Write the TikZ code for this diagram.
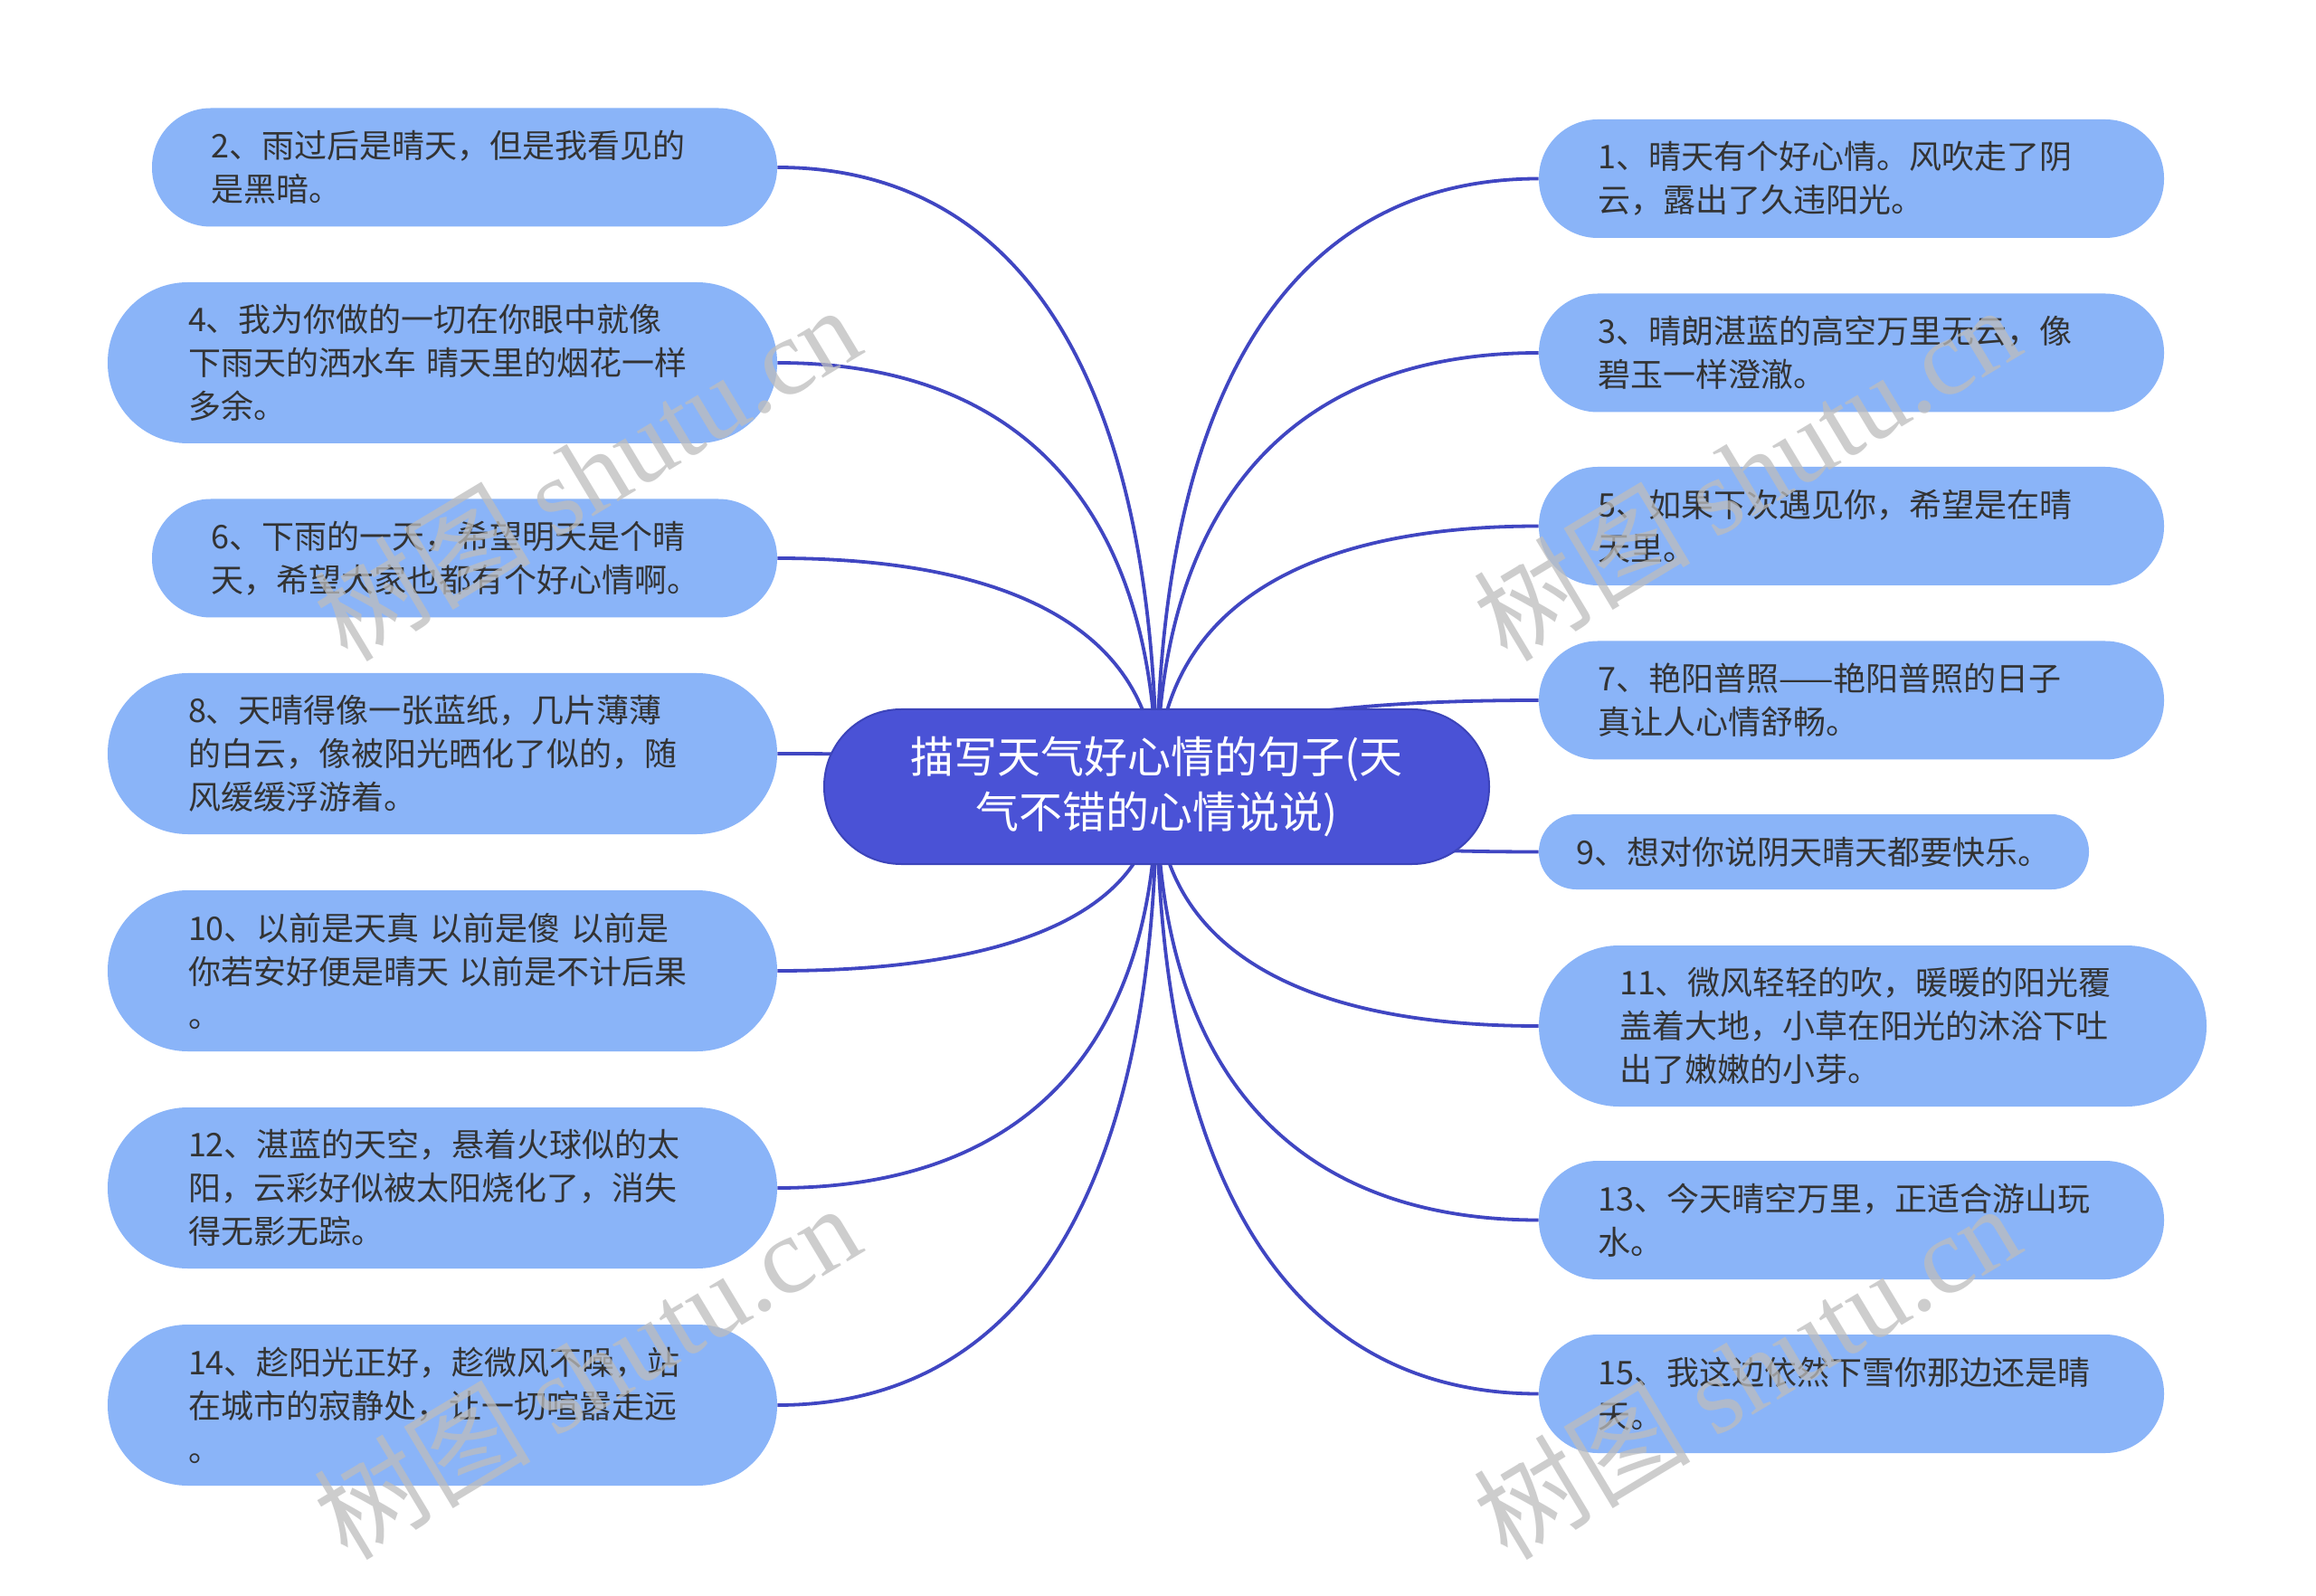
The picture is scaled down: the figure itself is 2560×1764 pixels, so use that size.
\documentclass[tikz,border=0pt]{standalone}
\usepackage{fontspec}
\setmainfont{Noto Sans CJK SC}
\newfontfamily\wmlatin{Liberation Serif}
\usetikzlibrary{calc,backgrounds}
\definecolor{leafc}{HTML}{8AB4F8}
\definecolor{rootc}{HTML}{4A52D6}
\definecolor{rootl}{HTML}{3C44BA}
\definecolor{edgec}{HTML}{4046C2}
\definecolor{txtc}{HTML}{333333}
\definecolor{wmc}{HTML}{BDBDBD}
\tikzset{
  leafbase/.style={rectangle, fill=leafc, text=txtc, align=left, inner ysep=0pt,
    font=\fontsize{18pt}{24pt}\selectfont},
  leaftwo/.style={leafbase, minimum width=345.5pt, minimum height=65.5pt,
    rounded corners=32.5pt, inner xsep=32.75pt, text width=280pt},
  leafthree/.style={leafbase, minimum width=370pt, minimum height=89pt,
    rounded corners=44.3pt, inner xsep=44.5pt, text width=281pt},
  leafwide/.style={leafbase, minimum width=369pt, minimum height=89pt,
    rounded corners=44.3pt, inner xsep=44.5pt, text width=280pt},
  leafone/.style={leafbase, minimum width=304pt, minimum height=41.5pt,
    rounded corners=20.6pt, inner xsep=20.75pt, text width=262.5pt},
  rootbox/.style={rectangle, fill=rootc, draw=rootl, line width=1pt, text=white,
    align=center, minimum width=367.5pt, minimum height=85.5pt, rounded corners=42.5pt,
    inner sep=0pt, font=\fontsize{24pt}{30.5pt}\selectfont},
  conn/.style={draw=edgec, line width=1.9pt},
  wmark/.style={text=wmc, opacity=0.75, inner sep=0pt, font=\fontsize{60pt}{60pt}\selectfont}
}
\newcommand{\linkto}[1]{%
  \draw[conn] (root.center) .. controls ($(root.center)!0.65!(root.center |- #1)$)
    and ($(#1)!0.65!(root.center |- #1)$) .. (#1);}
\begin{document}
\begin{tikzpicture}[x=0.5pt,y=-0.5pt]
\useasboundingbox (0,0) rectangle (2560,1764);

\node[rootbox] (root) at (1278.5,869.5) {描写天气好心情的句子(天\\气不错的心情说说)};

% left column
\node[leaftwo]   (n2)  at (513.5,185)  {2、雨过后是晴天，但是我看见的\\是黑暗。};
\node[leafthree] (n4)  at (489,401)    {4、我为你做的一切在你眼中就像\\下雨天的洒水车 晴天里的烟花一样\\多余。};
\node[leaftwo]   (n6)  at (513.5,617)  {6、下雨的一天，希望明天是个晴\\天，希望大家也都有个好心情啊。};
\node[leafthree] (n8)  at (489,833)    {8、天晴得像一张蓝纸，几片薄薄\\的白云，像被阳光晒化了似的，随\\风缓缓浮游着。};
\node[leafthree] (n10) at (489,1073)   {10、以前是天真 以前是傻 以前是\\你若安好便是晴天 以前是不计后果\\。};
\node[leafthree] (n12) at (489,1313)   {12、湛蓝的天空，悬着火球似的太\\阳，云彩好似被太阳烧化了，消失\\得无影无踪。};
\node[leafthree] (n14) at (489,1553)   {14、趁阳光正好，趁微风不噪，站\\在城市的寂静处，让一切喧嚣走远\\。};

% right column
\node[leaftwo]   (n1)  at (2046.5,197.5) {1、晴天有个好心情。风吹走了阴\\云，露出了久违阳光。};
\node[leaftwo]   (n3)  at (2046.5,390)   {3、晴朗湛蓝的高空万里无云，像\\碧玉一样澄澈。};
\node[leaftwo]   (n5)  at (2046.5,581.5) {5、如果下次遇见你，希望是在晴\\天里。};
\node[leaftwo]   (n7)  at (2046.5,774)   {7、艳阳普照——艳阳普照的日子\\真让人心情舒畅。};
\node[leafone]   (n9)  at (2005,941.5)   {9、想对你说阴天晴天都要快乐。};
\node[leafwide]  (n11) at (2070,1134)    {11、微风轻轻的吹，暖暖的阳光覆\\盖着大地，小草在阳光的沐浴下吐\\出了嫩嫩的小芽。};
\node[leaftwo]   (n13) at (2046.5,1348.5) {13、今天晴空万里，正适合游山玩\\水。};
\node[leaftwo]   (n15) at (2046.5,1540.5) {15、我这边依然下雪你那边还是晴\\天。};

\begin{scope}[on background layer]
  \fill[white] (0,0) rectangle (2560,1764);
  \foreach \n in {n2,n4,n6,n8,n10,n12,n14} {\linkto{\n.east}}
  \foreach \n in {n1,n3,n5,n7,n9,n11,n13,n15} {\linkto{\n.west}}
\end{scope}

% watermarks
\node[wmark, rotate=31] (w1) at (648,522)   {树图 {\wmlatin shutu.cn}};
\node[wmark, rotate=31] (w2) at (648,1515)  {树图 {\wmlatin shutu.cn}};
\node[wmark, rotate=31] (w3) at (1930,522)  {树图 {\wmlatin shutu.cn}};
\node[wmark, rotate=31] (w4) at (1930,1515) {树图 {\wmlatin shutu.cn}};
\end{tikzpicture}
\end{document}
